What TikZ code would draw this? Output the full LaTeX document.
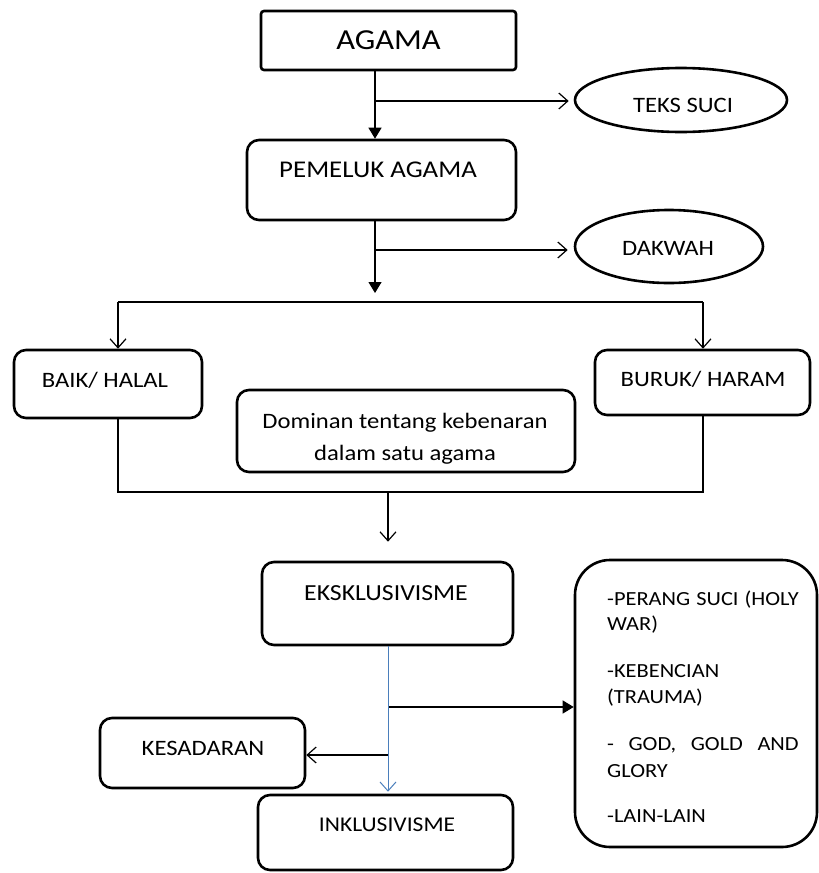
\documentclass[tikz,border=0pt]{standalone}
\usepackage{fontspec}
\usepackage{graphicx}
\setmainfont{Carlito}
\usetikzlibrary{shapes.geometric,arrows.meta}
\newcommand\fsz[1]{\fontsize{#1}{#1}\selectfont}
\newcommand\stx[1]{\scalebox{1.12}[1]{#1}}
\definecolor{linkblue}{RGB}{74,126,187}
\tikzset{
  sqbox/.style={draw, line width=2.6pt, rounded corners=3pt, inner sep=0pt},
  rbox/.style={draw, line width=2.6pt, rounded corners=12pt, inner sep=0pt},
  oval/.style={draw, ellipse, line width=2.6pt, inner sep=0pt},
  txt/.style={inner sep=0pt, anchor=base},
  conn/.style={line width=1.2pt},
  otip/.style={-{Straight Barb[length=9pt,width=16pt]}},
  ftip/.style={-{Triangle[length=11pt,width=13pt]}},
}
\begin{document}
\begin{tikzpicture}[x=1pt,y=-1pt]
\useasboundingbox (0,0) rectangle (819,873);

% boxes
\node[sqbox, minimum width=255, minimum height=59] (agama) at (388.5,40.5) {};
\node[rbox, minimum width=269, minimum height=80] (pem) at (381.5,180) {};
\node[oval, minimum width=212, minimum height=64] (teks) at (681,100) {};
\node[oval, minimum width=188, minimum height=73] (dakwah) at (669,246.5) {};
\node[rbox, minimum width=188, minimum height=68] (baik) at (108,384) {};
\node[rbox, minimum width=215, minimum height=65] (buruk) at (702.5,382.5) {};
\node[rbox, minimum width=338, minimum height=82] (dom) at (406,431) {};
\node[rbox, minimum width=251, minimum height=83] (eks) at (387.5,603.5) {};
\node[rbox, minimum width=205, minimum height=70] (kes) at (202.5,753) {};
\node[rbox, minimum width=255, minimum height=75] (ink) at (385.5,832.5) {};
\node[rbox, rounded corners=35pt, minimum width=242, minimum height=287] (rb) at (696,703.5) {};

% texts
\node[txt, font=\fsz{29}] (tagama) at (388.5,49) {\stx{AGAMA}};
\node[txt, font=\fsz{24}] (tpem) at (378,177) {\stx{PEMELUK AGAMA}};
\node[txt, font=\fsz{22}] (tteks) at (683,112) {\stx{TEKS SUCI}};
\node[txt, font=\fsz{22}] (tdak) at (668,255) {\stx{DAKWAH}};
\node[txt, font=\fsz{22}] (tbaik) at (105,387) {\stx{BAIK/ HALAL}};
\node[txt, font=\fsz{22}] (tburuk) at (703,386) {\stx{BURUK/ HARAM}};
\node[txt, font=\fsz{22}] (tdom1) at (405,428) {\stx{Dominan tentang kebenaran}};
\node[txt, font=\fsz{22}] (tdom2) at (405,460) {\stx{dalam satu agama}};
\node[txt, font=\fsz{23}] (teks1) at (386,600) {\stx{EKSKLUSIVISME}};
\node[txt, font=\fsz{22}] (tkes) at (203,755) {\stx{KESADARAN}};
\node[txt, font=\fsz{21}] (tink) at (387,831) {\stx{INKLUSIVISME}};
\begin{scope}[every node/.style={txt, anchor=base west, font=\fsz{20}}]
\node (r1) at (607,605) {\stx{\makebox[171pt][s]{-PERANG SUCI (HOLY}}};
\node (r2) at (607,630) {\stx{WAR)}};
\node (r3) at (607,677) {\stx{-KEBENCIAN}};
\node (r4) at (607,703) {\stx{(TRAUMA)}};
\node (r5) at (607,750) {\stx{\makebox[171pt][s]{- GOD, GOLD AND}}};
\node (r6) at (607,777) {\stx{GLORY}};
\node (r7) at (607,822) {\stx{-LAIN-LAIN}};
\end{scope}

% connector points
\coordinate (c1) at (375,101);
\coordinate (c3) at (375,250);
\coordinate (c2) at (375,293);
\coordinate (tl) at (118,302);
\coordinate (tr) at (703,302);
\coordinate (bl) at (118,492);
\coordinate (br) at (703,492);
\coordinate (m) at (388,492);
\coordinate (j1) at (388,707);
\coordinate (j2) at (388,755);

% connectors
\draw[conn,ftip] (agama.south -| c1) -- (pem.north -| c1);
\draw[conn,otip,shorten >=5pt] (c1) -- (c1 -| teks.west);
\draw[conn,ftip] (pem.south -| c1) -- (c2);
\draw[conn,otip,shorten >=6pt] (c3) -- (c3 -| dakwah.west);
\draw[conn] (tl) -- (tr);
\draw[conn,otip] (tl) -- (tl |- baik.north);
\draw[conn,otip] (tr) -- (tr |- buruk.north);
\draw[conn] (bl |- baik.south) -- (bl) -- (br) -- (br |- buruk.south);
\draw[conn,otip,shorten >=19pt] (m) -- (m |- eks.north);
\draw[conn,ftip] (j1) -- (j1 -| rb.west);
\draw[conn,otip] (j2) -- (j2 -| kes.east);
\draw[line width=1pt, draw=linkblue, otip, shorten >=2pt] (eks.south -| m) -- (ink.north -| m);
\end{tikzpicture}
\end{document}
